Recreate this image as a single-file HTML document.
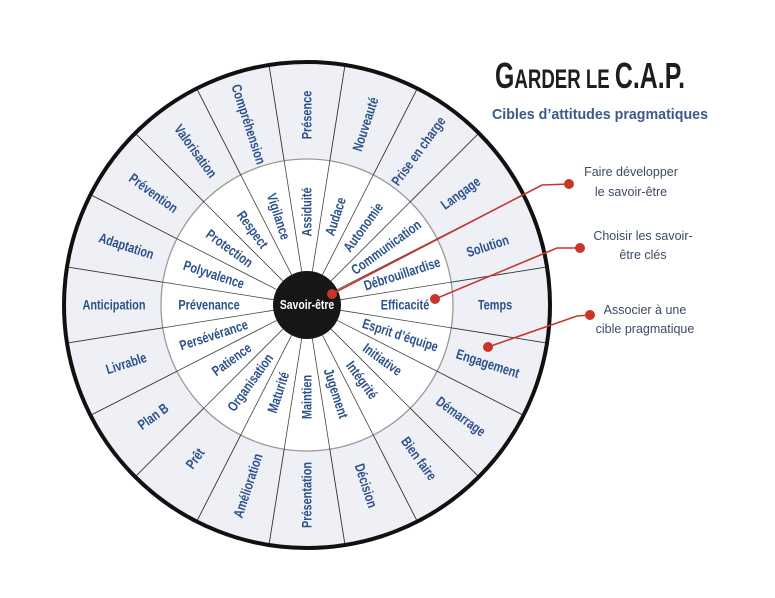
<!DOCTYPE html>
<html><head><meta charset="utf-8">
<style>
html,body{margin:0;padding:0;background:#fff;}
svg{display:block;}
.o,.i{font-family:"Liberation Sans Narrow","Liberation Sans",sans-serif;font-weight:bold;font-size:14px;fill:#2c5189;}
.n{font-family:"Liberation Sans",sans-serif;font-size:12.5px;fill:#3d4a66;}
</style></head>
<body>
<svg width="775" height="598" viewBox="0 0 775 598" xmlns="http://www.w3.org/2000/svg">
<rect width="775" height="598" fill="#fff"/>
<g transform="translate(307,305)">
  <circle r="243" fill="#eef0f5"/>
  <circle r="146" fill="#fff" stroke="#9a9a9a" stroke-width="1.3"/>
  <g stroke="#333" stroke-width="0.9">
    <line x1="146" x2="243" transform="rotate(9)"/><line x1="146" x2="243" transform="rotate(27)"/>
    <line x1="146" x2="243" transform="rotate(45)"/><line x1="146" x2="243" transform="rotate(63)"/>
    <line x1="146" x2="243" transform="rotate(81)"/><line x1="146" x2="243" transform="rotate(99)"/>
    <line x1="146" x2="243" transform="rotate(117)"/><line x1="146" x2="243" transform="rotate(135)"/>
    <line x1="146" x2="243" transform="rotate(153)"/><line x1="146" x2="243" transform="rotate(171)"/>
    <line x1="146" x2="243" transform="rotate(189)"/><line x1="146" x2="243" transform="rotate(207)"/>
    <line x1="146" x2="243" transform="rotate(225)"/><line x1="146" x2="243" transform="rotate(243)"/>
    <line x1="146" x2="243" transform="rotate(261)"/><line x1="146" x2="243" transform="rotate(279)"/>
    <line x1="146" x2="243" transform="rotate(297)"/><line x1="146" x2="243" transform="rotate(315)"/>
    <line x1="146" x2="243" transform="rotate(333)"/><line x1="146" x2="243" transform="rotate(351)"/>
  </g>
  <g stroke="#444" stroke-width="0.8">
    <line x1="34" x2="146" transform="rotate(9)"/><line x1="34" x2="146" transform="rotate(27)"/>
    <line x1="34" x2="146" transform="rotate(45)"/><line x1="34" x2="146" transform="rotate(63)"/>
    <line x1="34" x2="146" transform="rotate(81)"/><line x1="34" x2="146" transform="rotate(99)"/>
    <line x1="34" x2="146" transform="rotate(117)"/><line x1="34" x2="146" transform="rotate(135)"/>
    <line x1="34" x2="146" transform="rotate(153)"/><line x1="34" x2="146" transform="rotate(171)"/>
    <line x1="34" x2="146" transform="rotate(189)"/><line x1="34" x2="146" transform="rotate(207)"/>
    <line x1="34" x2="146" transform="rotate(225)"/><line x1="34" x2="146" transform="rotate(243)"/>
    <line x1="34" x2="146" transform="rotate(261)"/><line x1="34" x2="146" transform="rotate(279)"/>
    <line x1="34" x2="146" transform="rotate(297)"/><line x1="34" x2="146" transform="rotate(315)"/>
    <line x1="34" x2="146" transform="rotate(333)"/><line x1="34" x2="146" transform="rotate(351)"/>
  </g>
  <circle r="243" fill="none" stroke="#111" stroke-width="4"/>

  <g class="o" text-anchor="middle" dominant-baseline="central">
    <text transform="rotate(0) translate(188,0) scale(0.78,1)">Temps</text>
    <text transform="rotate(18) translate(190,0) scale(0.78,1)">Engagement</text>
    <text transform="rotate(36) translate(190,0) scale(0.78,1)">Démarrage</text>
    <text transform="rotate(54) translate(190,0) scale(0.78,1)">Bien faire</text>
    <text transform="rotate(72) translate(190,0) scale(0.78,1)">Décision</text>
    <text transform="rotate(-90) translate(-190,0) scale(0.78,1)">Présentation</text>
    <text transform="rotate(-72) translate(-190,0) scale(0.78,1)">Amélioration</text>
    <text transform="rotate(-54) translate(-190,0) scale(0.78,1)">Prêt</text>
    <text transform="rotate(-36) translate(-190,0) scale(0.78,1)">Plan B</text>
    <text transform="rotate(-18) translate(-190,0) scale(0.78,1)">Livrable</text>
    <text transform="rotate(0) translate(-193,0) scale(0.78,1)">Anticipation</text>
    <text transform="rotate(18) translate(-190,0) scale(0.78,1)">Adaptation</text>
    <text transform="rotate(36) translate(-190,0) scale(0.78,1)">Prévention</text>
    <text transform="rotate(54) translate(-190,0) scale(0.78,1)">Valorisation</text>
    <text transform="rotate(72) translate(-190,0) scale(0.78,1)">Compréhension</text>
    <text transform="rotate(-90) translate(190,0) scale(0.78,1)">Présence</text>
    <text transform="rotate(-72) translate(190,0) scale(0.78,1)">Nouveauté</text>
    <text transform="rotate(-54) translate(190,0) scale(0.78,1)">Prise en charge</text>
    <text transform="rotate(-36) translate(190,0) scale(0.78,1)">Langage</text>
    <text transform="rotate(-18) translate(190,0) scale(0.78,1)">Solution</text>
  </g>

  <g class="i" text-anchor="middle" dominant-baseline="central">
    <text transform="rotate(0) translate(98,0) scale(0.78,1)">Efficacité</text>
    <text transform="rotate(18) translate(98,0) scale(0.78,1)">Esprit d’équipe</text>
    <text transform="rotate(36) translate(93,0) scale(0.78,1)">Initiative</text>
    <text transform="rotate(54) translate(93,0) scale(0.78,1)">Intégrité</text>
    <text transform="rotate(72) translate(93,0) scale(0.78,1)">Jugement</text>
    <text transform="rotate(-90) translate(-92,0) scale(0.78,1)">Maintien</text>
    <text transform="rotate(-72) translate(-92,0) scale(0.78,1)">Maturité</text>
    <text transform="rotate(-54) translate(-96,0) scale(0.78,1)">Organisation</text>
    <text transform="rotate(-36) translate(-93,0) scale(0.78,1)">Patience</text>
    <text transform="rotate(-18) translate(-98,0) scale(0.78,1)">Persévérance</text>
    <text transform="rotate(0) translate(-98,0) scale(0.78,1)">Prévenance</text>
    <text transform="rotate(18) translate(-98,0) scale(0.78,1)">Polyvalence</text>
    <text transform="rotate(36) translate(-96,0) scale(0.78,1)">Protection</text>
    <text transform="rotate(54) translate(-93,0) scale(0.78,1)">Respect</text>
    <text transform="rotate(72) translate(-93,0) scale(0.78,1)">Vigilance</text>
    <text transform="rotate(-90) translate(93,0) scale(0.78,1)">Assiduité</text>
    <text transform="rotate(-72) translate(93,0) scale(0.78,1)">Audace</text>
    <text transform="rotate(-54) translate(96,0) scale(0.78,1)">Autonomie</text>
    <text transform="rotate(-36) translate(98,0) scale(0.78,1)">Communication</text>
    <text transform="rotate(-18) translate(100,0) scale(0.78,1)">Débrouillardise</text>
  </g>

  <circle r="34" fill="#161616"/>
  <text transform="scale(0.8,1)" x="0" y="0" text-anchor="middle" dominant-baseline="central" font-family="'Liberation Sans Narrow','Liberation Sans',sans-serif" font-weight="bold" font-size="13" fill="#fff">Savoir-être</text>
</g>

<g stroke="#c8362b" stroke-width="1.6" fill="none">
  <polyline points="332,294 542,185 569,184"/>
  <polyline points="435,299 557,248 580,248"/>
  <polyline points="488,347 577,316 590,315"/>
</g>
<g fill="#c8362b">
  <circle cx="332" cy="294" r="5"/>
  <circle cx="569" cy="184" r="5"/>
  <circle cx="435" cy="299" r="5"/>
  <circle cx="580" cy="248" r="5"/>
  <circle cx="488" cy="347" r="5"/>
  <circle cx="590" cy="315" r="5"/>
</g>

<g class="n" text-anchor="middle">
  <text x="631" y="176">Faire développer</text>
  <text x="631" y="196">le savoir-être</text>
  <text x="643" y="240">Choisir les savoir-</text>
  <text x="643" y="259">être clés</text>
  <text x="645" y="314">Associer à une</text>
  <text x="645" y="333">cible pragmatique</text>
</g>

<text x="495" y="88" textLength="190" lengthAdjust="spacingAndGlyphs" font-family="'Liberation Sans Narrow','Liberation Sans',sans-serif" font-weight="bold" fill="#1e1e1e"><tspan font-size="36">G</tspan><tspan font-size="27">ARDER LE </tspan><tspan font-size="36">C.A.P.</tspan></text>
<text x="492" y="119" textLength="216" lengthAdjust="spacingAndGlyphs" font-family="'Liberation Sans',sans-serif" font-weight="bold" font-size="15" fill="#3a5a8a">Cibles d’attitudes pragmatiques</text>
</svg>
</body></html>
